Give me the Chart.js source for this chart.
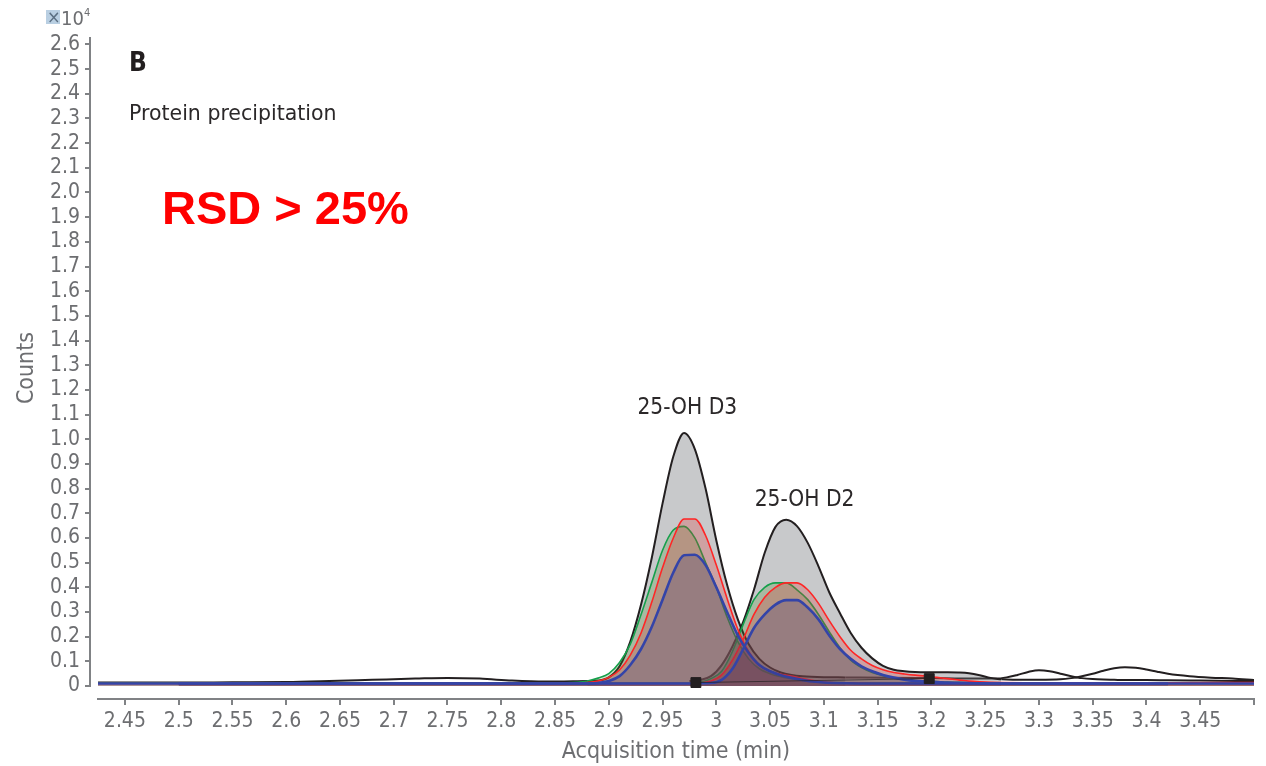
<!DOCTYPE html>
<html><head><meta charset="utf-8">
<script src="https://cdn.jsdelivr.net/npm/chart.js@4/dist/chart.umd.min.js"></script>
<style>html,body{margin:0;padding:0;background:#fff;overflow:hidden}canvas{display:block}</style>
</head><body>
<canvas id="c" width="1266" height="766"></canvas>
<script>
// ---------- tick definitions ----------
const yTicks = [0,0.1,0.2,0.3,0.4,0.5,0.6,0.7,0.8,0.9,1.0,1.1,1.2,1.3,1.4,1.5,1.6,1.7,1.8,1.9,2.0,2.1,2.2,2.3,2.4,2.5,2.6];
const yTickLabels = ['0','0.1','0.2','0.3','0.4','0.5','0.6','0.7','0.8','0.9','1.0','1.1','1.2','1.3','1.4','1.5','1.6','1.7','1.8','1.9','2.0','2.1','2.2','2.3','2.4','2.5','2.6'];
const xTicks = [2.45,2.5,2.55,2.6,2.65,2.7,2.75,2.8,2.85,2.9,2.95,3,3.05,3.1,3.15,3.2,3.25,3.3,3.35,3.4,3.45,3.5];
const xTickLabels = ['2.45','2.5','2.55','2.6','2.65','2.7','2.75','2.8','2.85','2.9','2.95','3','3.05','3.1','3.15','3.2','3.25','3.3','3.35','3.4','3.45',''];

// ---------- black (total) traces, counts x10^4 ----------
const tLead = [2.425,2.5,2.55,2.6,2.64,2.68,2.72,2.75,2.78,2.81,2.84,2.88];
const blackLead = [0.014,0.014,0.015,0.016,0.02,0.025,0.03,0.033,0.03,0.022,0.018,0.02];

const tBlackD3 = [2.88,2.89,2.90,2.91,2.92,2.93,2.94,2.95,2.96,2.97,2.98,2.99,3.00,3.01,3.02,3.03,3.04,3.05,3.06,3.07,3.08,3.10,3.12];
const blackD3 = [0.02,0.022,0.035,0.08,0.18,0.33,0.52,0.74,0.93,1.025,0.96,0.80,0.59,0.41,0.27,0.17,0.11,0.075,0.055,0.045,0.04,0.036,0.035];

const tBlackD2 = [2.975,2.985,2.995,3.005,3.015,3.025,3.035,3.045,3.055,3.065,3.075,3.085,3.095,3.105,3.115,3.125,3.135,3.145,3.155,3.165,3.175,3.185,3.195,3.205,3.215,3.225,3.235,3.245,3.255,3.265];
const blackD2 = [0.02,0.025,0.04,0.085,0.16,0.26,0.39,0.54,0.645,0.674,0.648,0.58,0.485,0.38,0.295,0.215,0.155,0.112,0.082,0.066,0.06,0.057,0.056,0.056,0.056,0.055,0.052,0.044,0.033,0.027];

const tTailA = [3.12,3.16,3.2,3.24,3.26,3.27,3.28,3.29,3.30,3.31,3.32,3.33,3.34,3.35,3.36,3.37,3.38,3.39,3.40,3.42,3.45,3.5];
const blackTailA = [0.035,0.034,0.032,0.03,0.03,0.035,0.045,0.057,0.064,0.06,0.05,0.04,0.032,0.028,0.026,0.025,0.024,0.024,0.024,0.023,0.022,0.02];

const tTailB = [3.265,3.28,3.30,3.32,3.33,3.34,3.35,3.36,3.37,3.38,3.39,3.40,3.41,3.42,3.44,3.46,3.48,3.5];
const blackTailB = [0.027,0.025,0.025,0.027,0.032,0.04,0.05,0.062,0.072,0.076,0.074,0.067,0.058,0.05,0.04,0.034,0.03,0.024];

// ---------- replicate traces: 25-OH D3 transition ----------
const tColD3 = [2.425,2.5,2.6,2.7,2.8,2.86,2.88,2.89,2.90,2.91,2.92,2.93,2.94,2.95,2.96,2.97,2.98,2.99,3.00,3.01,3.02,3.03,3.04,3.05,3.06,3.07,3.08,3.09,3.10,3.12,3.15,3.2,3.3,3.4,3.5];
const greenD3 = [0.012,0.012,0.012,0.012,0.012,0.013,0.02,0.032,0.05,0.095,0.17,0.29,0.42,0.55,0.632,0.647,0.60,0.50,0.40,0.28,0.18,0.11,0.07,0.05,0.038,0.03,0.024,0.019,0.016,0.013,0.012,0.012,0.012,0.012,0.012];
const redD3   = [0.01,0.01,0.01,0.01,0.01,0.011,0.014,0.02,0.035,0.065,0.125,0.215,0.34,0.48,0.60,0.677,0.677,0.61,0.49,0.355,0.23,0.14,0.085,0.06,0.048,0.04,0.03,0.022,0.016,0.012,0.01,0.01,0.01,0.01,0.012];
const blueD3  = [0.01,0.01,0.01,0.01,0.01,0.01,0.01,0.012,0.02,0.04,0.085,0.15,0.24,0.35,0.46,0.53,0.532,0.49,0.40,0.30,0.205,0.135,0.085,0.06,0.044,0.033,0.025,0.018,0.014,0.011,0.01,0.01,0.01,0.01,0.01];

// ---------- replicate traces: 25-OH D2 transition ----------
const tColD2 = [2.5,2.6,2.7,2.8,2.9,2.95,2.975,2.985,2.995,3.005,3.015,3.025,3.035,3.045,3.055,3.065,3.075,3.085,3.095,3.105,3.115,3.125,3.135,3.145,3.155,3.165,3.175,3.185,3.195,3.205,3.215,3.225,3.235,3.245,3.255,3.3,3.35,3.42,3.5];
const greenD2 = [0.012,0.012,0.012,0.012,0.012,0.012,0.012,0.015,0.03,0.06,0.14,0.25,0.35,0.40,0.418,0.418,0.39,0.35,0.29,0.22,0.155,0.105,0.075,0.055,0.042,0.033,0.027,0.022,0.02,0.018,0.016,0.015,0.014,0.013,0.012,0.012,0.012,0.012,0.012];
const redD2   = [0.01,0.01,0.01,0.01,0.01,0.01,0.01,0.012,0.02,0.045,0.105,0.19,0.29,0.36,0.40,0.418,0.418,0.39,0.335,0.265,0.2,0.145,0.11,0.083,0.066,0.055,0.049,0.044,0.04,0.035,0.03,0.025,0.02,0.017,0.015,0.013,0.013,0.013,0.014];
const blueD2  = [0.01,0.01,0.01,0.01,0.01,0.01,0.01,0.011,0.012,0.025,0.07,0.15,0.235,0.29,0.33,0.348,0.348,0.318,0.27,0.205,0.15,0.11,0.08,0.06,0.045,0.034,0.026,0.021,0.018,0.016,0.014,0.013,0.012,0.011,0.01,0.01,0.01,0.01,null];

// ---------- integration markers ----------
const markT = [2.981, 3.198];
const markV = [0.014, 0.03];

// ---------- annotations (data-space anchors) ----------
const peakLabels = ['25-OH D3', '25-OH D2'];
const peakLabelT = [2.973, 3.082];
const peakLabelV = [1.104, 0.729];

const pts = (t, v) => t.map((x, i) => ({x, y: v[i]}));

const NARROW = '"DejaVu Sans Condensed", "DejaVu Sans", sans-serif';
const AX = '#808285', TXT = '#6d6e71';
Chart.defaults.font.family = NARROW;

const line = (label, t, v, color, width, fillColor) => ({
  label, data: pts(t, v), borderColor: color, borderWidth: width,
  backgroundColor: fillColor || 'transparent', fill: fillColor ? 'origin' : false,
  pointRadius: 0, cubicInterpolationMode: 'monotone', spanGaps: false
});

const BLACK = '#231f20', BFILL = 'rgba(110,113,118,0.38)';
const GREEN = '#15a04b', GFILL = 'rgba(70,140,40,0.25)';
const RED = '#ff2626', RFILL = 'rgba(225,40,40,0.25)';
const BLUE = '#3444a8', BLFILL = 'rgba(60,50,120,0.25)';

const datasets = [
  {label:'markers', data: pts(markT, markV), borderColor:'rgba(35,31,32,0.7)', borderWidth:1,
   pointStyle:'rect', pointRadius:7, pointBackgroundColor:BLACK, pointBorderColor:BLACK, fill:false, tension:0},
  line('blue D2', tColD2, blueD2, BLUE, 2.6, BLFILL),
  line('blue D3', tColD3, blueD3, BLUE, 2.6, BLFILL),
  line('red D2', tColD2, redD2, RED, 1.6, RFILL),
  line('red D3', tColD3, redD3, RED, 1.6, RFILL),
  line('green D2', tColD2, greenD2, GREEN, 1.6, GFILL),
  line('green D3', tColD3, greenD3, GREEN, 1.6, GFILL),
  line('black D3', tBlackD3, blackD3, BLACK, 2, BFILL),
  line('black D2', tBlackD2, blackD2, BLACK, 2, BFILL),
  line('black lead', tLead, blackLead, BLACK, 2),
  line('black tail A', tTailA, blackTailA, BLACK, 2),
  line('black tail B', tTailB, blackTailB, BLACK, 2)
];

const decor = {
  id: 'decor',
  afterDraw(chart) {
    const {ctx, chartArea: a, scales: {x, y}} = chart;
    ctx.save();
    // detached y axis line with outward tick marks
    const ax = a.left - 8;
    ctx.strokeStyle = AX; ctx.lineWidth = 2;
    ctx.beginPath(); ctx.moveTo(ax, a.top); ctx.lineTo(ax, y.getPixelForValue(0) + 1); ctx.stroke();
    y.ticks.forEach(t => {
      const py = Math.round(y.getPixelForValue(t.value));
      ctx.beginPath(); ctx.moveTo(ax - 5, py); ctx.lineTo(ax, py); ctx.stroke();
    });
    // x10^4 multiplier
    ctx.fillStyle = '#b9cfe2';
    ctx.fillRect(ax - 44, 10, 14, 14);
    ctx.fillStyle = '#5b6f82';
    ctx.font = '18px ' + NARROW; ctx.textBaseline = 'alphabetic'; ctx.textAlign = 'left';
    ctx.fillText('\u00d7', ax - 43, 23);
    ctx.fillStyle = TXT;
    ctx.font = '20px ' + NARROW;
    ctx.fillText('10', ax - 29, 25);
    ctx.font = '11px ' + NARROW;
    ctx.fillText('4', ax - 6, 16);
    // panel labels
    ctx.fillStyle = BLACK;
    ctx.font = 'bold 26px ' + NARROW;
    ctx.fillText('B', a.left + 31, 71);
    ctx.font = '20.5px "DejaVu Sans", sans-serif';
    ctx.fillStyle = '#2b2829';
    ctx.fillText('Protein precipitation', a.left + 31, 120);
    ctx.fillStyle = '#ff0000';
    ctx.font = 'bold 47px "Liberation Sans", Arial, sans-serif';
    ctx.fillText('RSD > 25%', a.left + 64, 224);
    // peak labels
    ctx.fillStyle = '#2b2829';
    ctx.font = '22.5px ' + NARROW;
    ctx.textAlign = 'center';
    peakLabels.forEach((s, i) => ctx.fillText(s, x.getPixelForValue(peakLabelT[i]), y.getPixelForValue(peakLabelV[i])));
    ctx.restore();
  }
};

new Chart(document.getElementById('c'), {
  type: 'line',
  data: { datasets },
  options: {
    responsive: false, animation: false, devicePixelRatio: 1,
    layout: { padding: { top: 37, right: 12, left: 0, bottom: 0 } },
    plugins: { legend: { display: false }, tooltip: { enabled: false } },
    scales: {
      x: {
        type: 'linear', min: 2.425, max: 3.5,
        afterBuildTicks: s => { s.ticks = xTicks.map(v => ({value: v})); },
        afterFit: s => { s.height = 67; },
        border: { display: true, color: AX, width: 2 },
        grid: { display: true, drawOnChartArea: false, drawTicks: true, tickLength: 6, color: AX, lineWidth: 2 },
        ticks: { autoSkip: false, maxRotation: 0, minRotation: 0, padding: 6, color: TXT,
                 font: { size: 21, lineHeight: 1 }, callback: (v, i) => xTickLabels[i] },
        title: { display: true, text: 'Acquisition time (min)', color: TXT,
                 font: { size: 23, lineHeight: 1 }, padding: { top: 0, bottom: 2 } }
      },
      y: {
        type: 'linear', min: -0.0526, max: 2.63,
        afterBuildTicks: s => { s.ticks = yTicks.map(v => ({value: v})); },
        afterFit: s => { s.width = 98; },
        border: { display: false },
        grid: { display: false, drawTicks: false },
        ticks: { autoSkip: false, padding: 18, color: TXT, font: { size: 21, lineHeight: 1 },
                 callback: (v, i) => yTickLabels[i] },
        title: { display: true, text: 'Counts', color: TXT,
                 font: { size: 23, lineHeight: 1 }, padding: { top: 16, bottom: 0 } }
      }
    }
  },
  plugins: [decor]
});
</script>
</body></html>
